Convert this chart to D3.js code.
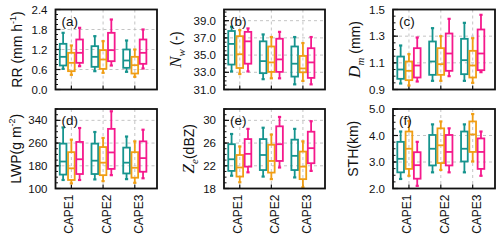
<!DOCTYPE html>
<html>
<head>
<meta charset="utf-8">
<script src="https://cdn.jsdelivr.net/npm/d3@7"></script>
<style>
  body { margin: 0; background: #fff; }
  svg { display: block; }
  text { font-family: "Liberation Sans", Arial, sans-serif; fill: #111; }
</style>
</head>
<body>
<svg width="500" height="242"></svg>
<script>
const groups = ["CAPE1", "CAPE2", "CAPE3"];
const groupLabelPos = [0.93, 2.12, 3.13];
const seriesColors = ["#16948e", "#f09e14", "#f5198c"];

// per group: three series, each [whiskerLow, q1, median, q3, whiskerHigh]
const rrStats = [
  [[0.62, 0.72, 0.98, 1.37, 1.70], [0.44, 0.55, 0.80, 1.10, 1.32], [0.70, 0.80, 1.10, 1.50, 1.85]],
  [[0.55, 0.68, 0.98, 1.30, 1.60], [0.50, 0.62, 0.90, 1.18, 1.45], [0.72, 0.85, 1.18, 1.70, 2.10]],
  [[0.53, 0.65, 0.87, 1.20, 1.47], [0.38, 0.48, 0.73, 0.98, 1.20], [0.63, 0.77, 1.10, 1.50, 1.80]]
];
const nwStats = [
  [[33.1, 33.9, 36.3, 37.8, 38.3], [32.8, 33.5, 35.1, 37.2, 37.9], [33.1, 34.0, 36.6, 37.7, 38.1]],
  [[32.2, 32.9, 34.3, 36.6, 37.4], [32.3, 33.05, 34.15, 36.0, 37.1], [32.3, 33.05, 34.5, 36.9, 37.7]],
  [[31.6, 32.5, 34.0, 36.0, 37.1], [32.0, 33.0, 33.45, 34.9, 36.4], [31.6, 32.35, 34.15, 35.8, 37.1]]
];
const dmStats = [
  [[0.945, 0.98, 1.05, 1.147, 1.23], [0.93, 0.97, 1.04, 1.11, 1.165], [0.96, 0.99, 1.08, 1.21, 1.29]],
  [[0.965, 1.01, 1.11, 1.26, 1.36], [0.965, 1.01, 1.09, 1.21, 1.30], [1.00, 1.04, 1.17, 1.32, 1.43]],
  [[0.965, 1.015, 1.12, 1.28, 1.40], [0.95, 0.99, 1.08, 1.19, 1.285], [1.03, 1.045, 1.17, 1.35, 1.46]]
];
const lwpStats = [
  [[130, 149, 195, 258, 315], [118, 130, 171, 228, 272], [130, 151, 203, 264, 313]],
  [[132, 151, 198, 258, 299], [126, 147, 191, 246, 278], [147, 169, 227, 310, 372]],
  [[133, 153, 191, 244, 283], [120, 138, 173, 228, 266], [136, 159, 207, 266, 307]]
];
const zeStats = [
  [[20.25, 21.1, 23.15, 25.8, 27.6], [19.1, 20.1, 21.7, 23.9, 25.4], [20.85, 21.85, 24.1, 26.7, 28.5]],
  [[20.1, 21.25, 23.9, 26.7, 28.7], [19.65, 20.8, 22.85, 25.7, 27.5], [21.7, 22.85, 25.8, 28.95, 30.6]],
  [[19.95, 21.25, 23.75, 26.6, 28.5], [18.2, 19.65, 21.85, 24.5, 26.3], [21.1, 22.45, 25.1, 28.0, 29.85]]
];
const sthStats = [
  [[2.36, 2.61, 3.12, 3.76, 4.15], [2.48, 2.74, 3.50, 4.15, 4.55], [2.10, 2.37, 2.88, 3.37, 3.76]],
  [[2.61, 2.87, 3.50, 4.02, 4.42], [2.70, 2.96, 3.63, 4.27, 4.53], [2.61, 2.87, 3.38, 4.02, 4.27]],
  [[2.61, 3.02, 3.50, 4.15, 4.42], [3.02, 3.38, 4.04, 4.53, 4.81], [2.48, 2.74, 3.38, 3.89, 4.15]]
];

const rrTicks = [0.0, 0.6, 1.2, 1.8, 2.4];
const nwTicks = [31, 33, 35, 37, 39];
const dmTicks = [0.9, 1.1, 1.3, 1.5];
const lwpTicks = [100, 180, 260, 340];
const zeTicks = [18, 22, 26, 30];
const sthTicks = [2, 3, 4, 5];

const svg = d3.select("svg");
const serif = '"Liberation Serif", "DejaVu Serif", serif';

function sup(t, base, s) {
  t.append("tspan").text(base);
  t.append("tspan").attr("dy", -6).style("font-size", "9px").text(s);
  t.append("tspan").attr("dy", 6).text(")");
}
function mathLabel(t, v, sub, rest) {
  t.append("tspan").style("font-family", serif).style("font-style", "italic").style("font-size", "17px").text(v);
  t.append("tspan").attr("dy", 4).style("font-family", serif).style("font-style", "italic").style("font-size", "11px").text(sub);
  t.append("tspan").attr("dy", -4).text(rest);
}

function drawPanel(p) {
  const g = svg.append("g");
  const y = d3.scaleLinear().domain(p.domain).range([p.y1, p.y0]);
  const x = d3.scaleLinear().domain([0.5, 3.7]).range([p.x0, p.x1]);
  const fmt = p.fmt;

  // dashed grid
  g.selectAll(".hg").data(p.ticks.filter(t => t > p.domain[0] && t < p.domain[1])).join("line")
    .attr("x1", p.x0).attr("x2", p.x1).attr("y1", d => y(d)).attr("y2", d => y(d))
    .attr("stroke", "#c4c4c4").attr("stroke-width", 1).attr("stroke-dasharray", "3,3");
  g.selectAll(".vg").data(groups).join("line")
    .attr("x1", (d, i) => x(i + 1)).attr("x2", (d, i) => x(i + 1))
    .attr("y1", p.y0).attr("y2", p.y1)
    .attr("stroke", "#c4c4c4").attr("stroke-width", 1).attr("stroke-dasharray", "3,3");

  // y ticks point inwards, with minor ticks
  const step = p.ticks[1] - p.ticks[0];
  const minor = [];
  for (let v = p.domain[0]; v <= p.domain[1] + 1e-9; v += step / 4) minor.push(v);
  g.selectAll(".mt").data(minor).join("line")
    .attr("x1", p.x0).attr("x2", p.x0 + 2.5).attr("y1", d => y(d)).attr("y2", d => y(d))
    .attr("stroke", "#111").attr("stroke-width", 1);
  g.selectAll(".Mt").data(p.ticks).join("line")
    .attr("x1", p.x0).attr("x2", p.x0 + 5).attr("y1", d => y(d)).attr("y2", d => y(d))
    .attr("stroke", "#111").attr("stroke-width", 1.2);
  g.selectAll(".tl").data(p.ticks).join("text")
    .attr("x", p.x0 - 8).attr("y", d => y(d)).attr("dy", "0.36em")
    .attr("text-anchor", "end").style("font-size", "11.5px")
    .text(d => fmt(d));
  g.selectAll(".xt").data(groups).join("line")
    .attr("x1", (d, i) => x(i + 1)).attr("x2", (d, i) => x(i + 1))
    .attr("y1", p.y1).attr("y2", p.y1 - 4)
    .attr("stroke", "#111").attr("stroke-width", 1.2);

  // boxes
  const off = 0.26, bw = 0.21;
  p.stats.forEach((grp, gi) => {
    grp.forEach((s, si) => {
      const cx = x(gi + 1 + (si - 1) * off);
      const half = (x(bw) - x(0)) / 2;
      const b = g.append("g").attr("stroke", seriesColors[si]).attr("fill", "none").attr("stroke-width", 1.8);
      b.append("line").attr("x1", cx).attr("x2", cx).attr("y1", y(s[0])).attr("y2", y(s[1]));
      b.append("line").attr("x1", cx).attr("x2", cx).attr("y1", y(s[3])).attr("y2", y(s[4]));
      b.append("line").attr("x1", cx - 1.6).attr("x2", cx + 1.6).attr("y1", y(s[0])).attr("y2", y(s[0])).attr("stroke-width", 2.2);
      b.append("line").attr("x1", cx - 1.6).attr("x2", cx + 1.6).attr("y1", y(s[4])).attr("y2", y(s[4])).attr("stroke-width", 2.2);
      b.append("rect").attr("x", cx - half).attr("y", y(s[3]))
        .attr("width", half * 2).attr("height", y(s[1]) - y(s[3]));
      b.append("line").attr("x1", cx - half).attr("x2", cx + half).attr("y1", y(s[2])).attr("y2", y(s[2]));
    });
  });

  g.append("rect").attr("x", p.x0).attr("y", p.y0).attr("width", p.x1 - p.x0).attr("height", p.y1 - p.y0)
    .attr("fill", "none").attr("stroke", "#111").attr("stroke-width", 1.8);

  g.append("text").attr("x", p.x0 + 6).attr("y", p.y0 + 16).style("font-size", "13.5px").text(p.letter);

  const lab = g.append("text").attr("text-anchor", "middle").style("font-size", "14px")
    .attr("transform", `translate(${p.labelX},${(p.y0 + p.y1) / 2})rotate(-90)`).attr("dy", "0.35em");
  p.label(lab);

  if (p.showX) {
    g.selectAll(".xl").data(groups).join("text")
      .attr("text-anchor", "end").style("font-size", "12px")
      .attr("transform", (d, i) => `translate(${x(groupLabelPos[i])},${p.y1 + 6})rotate(-90)`)
      .attr("dy", "0.36em").text(d => d);
  }
}

const top0 = 9.5, top1 = 89.5, bot0 = 109, bot1 = 188.5;
const cols = [[55.5, 157], [224, 325], [393, 495]];

drawPanel({ x0: cols[0][0], x1: cols[0][1], y0: top0, y1: top1, domain: [0, 2.4], ticks: rrTicks, fmt: d3.format(".1f"),
  stats: rrStats, letter: "(a)", labelX: 17, label: t => sup(t, "RR (mm h", "-1") });
drawPanel({ x0: cols[1][0], x1: cols[1][1], y0: top0, y1: top1, domain: [31, 40.3], ticks: nwTicks, fmt: d3.format(".1f"),
  stats: nwStats, letter: "(b)", labelX: 176, label: t => mathLabel(t, "N", "w", " (-)") });
drawPanel({ x0: cols[2][0], x1: cols[2][1], y0: top0, y1: top1, domain: [0.9, 1.5], ticks: dmTicks, fmt: d3.format(".1f"),
  stats: dmStats, letter: "(c)", labelX: 355, label: t => mathLabel(t, "D", "m", " (mm)") });
drawPanel({ x0: cols[0][0], x1: cols[0][1], y0: bot0, y1: bot1, domain: [100, 380], ticks: lwpTicks, fmt: d3.format("d"),
  stats: lwpStats, letter: "(d)", labelX: 16, label: t => sup(t, "LWP(g m", "-2"), showX: true });
drawPanel({ x0: cols[1][0], x1: cols[1][1], y0: bot0, y1: bot1, domain: [18, 32], ticks: zeTicks, fmt: d3.format("d"),
  stats: zeStats, letter: "(e)", labelX: 189, label: t => mathLabel(t, "Z", "e", "(dBZ)"), showX: true });
drawPanel({ x0: cols[2][0], x1: cols[2][1], y0: bot0, y1: bot1, domain: [2, 5], ticks: sthTicks, fmt: d3.format(".1f"),
  stats: sthStats, letter: "(f)", labelX: 353, label: t => t.text("STH(km)"), showX: true });
</script>
</body>
</html>
